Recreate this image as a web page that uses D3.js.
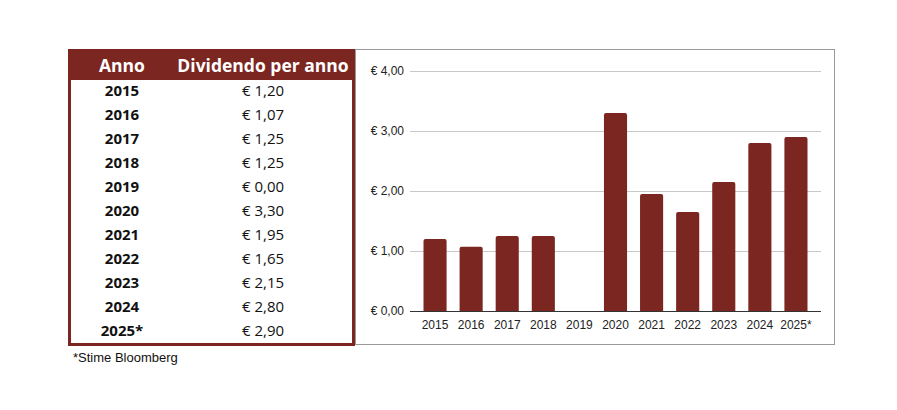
<!DOCTYPE html>
<html>
<head>
<meta charset="utf-8">
<script src="https://cdn.jsdelivr.net/npm/d3@7"></script>
<style>
  body { margin: 0; background: #fff; }
  svg { display: block; }
</style>
</head>
<body>
<svg id="vis" width="897" height="410"></svg>
<script>
// dati
const anni = ["2015", "2016", "2017", "2018", "2019", "2020", "2021", "2022", "2023", "2024", "2025*"];
const dividendi = [1.20, 1.07, 1.25, 1.25, 0.00, 3.30, 1.95, 1.65, 2.15, 2.80, 2.90];
const yTicks = [0, 1, 2, 3, 4];
const intestazioni = ["Anno", "Dividendo per anno"];
const nota = "*Stime Bloomberg";

const rosso = "#7b2621";
const fmt = v => "€ " + d3.format(".2f")(v).replace(".", ",");

const svg = d3.select("#vis");

// ---- tabella a sinistra ----
const tab = { x0: 68, x1: 355, y0: 49, y1: 346, head: 31 };

svg.append("rect")
    .attr("x", tab.x0).attr("y", tab.y0)
    .attr("width", tab.x1 - tab.x0).attr("height", tab.head)
    .attr("fill", rosso);

svg.append("rect")
    .attr("x", tab.x0 + 1.5).attr("y", tab.y0 + 1.5)
    .attr("width", tab.x1 - tab.x0 - 3).attr("height", tab.y1 - tab.y0 - 3)
    .attr("fill", "none")
    .attr("stroke", rosso)
    .attr("stroke-width", 3);

const colX = [122, 263];

svg.selectAll(".head")
    .data(intestazioni)
    .enter()
    .append("text")
    .attr("class", "head")
    .attr("x", (d, i) => colX[i])
    .attr("y", 72)
    .attr("text-anchor", "middle")
    .attr("font-family", "'Open Sans', sans-serif")
    .attr("font-weight", "bold")
    .attr("font-size", "17.5px")
    .attr("fill", "white")
    .text(d => d);

const righe = anni.map((a, i) => ({ anno: a, val: dividendi[i] }));
const yRow = d3.scaleBand().domain(anni).range([79, 343]);

svg.selectAll(".anno")
    .data(righe)
    .enter()
    .append("text")
    .attr("class", "anno")
    .attr("x", colX[0])
    .attr("y", d => yRow(d.anno) + yRow.bandwidth() / 2 + 5)
    .attr("text-anchor", "middle")
    .attr("font-family", "'Open Sans', sans-serif")
    .attr("font-weight", "bold")
    .attr("font-size", "15px")
    .attr("fill", "#111")
    .text(d => d.anno);

svg.selectAll(".valore")
    .data(righe)
    .enter()
    .append("text")
    .attr("class", "valore")
    .attr("x", colX[1])
    .attr("y", d => yRow(d.anno) + yRow.bandwidth() / 2 + 5)
    .attr("text-anchor", "middle")
    .attr("font-family", "'Open Sans', sans-serif")
    .attr("font-size", "15px")
    .attr("fill", "#111")
    .text(d => fmt(d.val));

svg.append("text")
    .attr("x", 73).attr("y", 362)
    .attr("font-family", "'Liberation Sans', Arial, sans-serif")
    .attr("font-size", "13px")
    .attr("fill", "#111")
    .text(nota);

// ---- grafico a destra ----
svg.append("rect")
    .attr("x", 355.5).attr("y", 49.5)
    .attr("width", 479).attr("height", 295)
    .attr("fill", "none")
    .attr("stroke", "#999")
    .attr("stroke-width", 1);

const x = d3.scaleBand().domain(anni).range([417, 814]).paddingInner(0.36).paddingOuter(0.18);
const y = d3.scaleLinear().domain([0, 4]).range([311, 71]);

const gridL = 410, gridR = 821;

svg.selectAll(".grid")
    .data(yTicks.filter(t => t > 0))
    .enter()
    .append("line")
    .attr("class", "grid")
    .attr("x1", gridL).attr("x2", gridR)
    .attr("y1", d => Math.round(y(d)) + 0.5)
    .attr("y2", d => Math.round(y(d)) + 0.5)
    .attr("stroke", "#c8c8c8");

svg.selectAll(".ylab")
    .data(yTicks)
    .enter()
    .append("text")
    .attr("class", "ylab")
    .attr("x", 404)
    .attr("y", d => y(d) + 4)
    .attr("text-anchor", "end")
    .attr("font-family", "'Liberation Sans', Arial, sans-serif")
    .attr("font-size", "12px")
    .attr("fill", "#222")
    .text(d => fmt(d));

svg.selectAll(".bar")
    .data(righe.filter(d => d.val > 0))
    .enter()
    .append("path")
    .attr("class", "bar")
    .attr("fill", rosso)
    .attr("d", d => {
        const x0 = x(d.anno), w = x.bandwidth(), y0 = y(d.val), y1 = y(0), r = 2;
        return `M${x0},${y1}V${y0 + r}Q${x0},${y0} ${x0 + r},${y0}H${x0 + w - r}Q${x0 + w},${y0} ${x0 + w},${y0 + r}V${y1}Z`;
    });

svg.append("line")
    .attr("x1", gridL).attr("x2", gridR)
    .attr("y1", 311.5).attr("y2", 311.5)
    .attr("stroke", "#333");

svg.selectAll(".xlab")
    .data(anni)
    .enter()
    .append("text")
    .attr("class", "xlab")
    .attr("x", d => x(d) + x.bandwidth() / 2)
    .attr("y", 329)
    .attr("text-anchor", "middle")
    .attr("font-family", "'Liberation Sans', Arial, sans-serif")
    .attr("font-size", "12px")
    .attr("fill", "#222")
    .text(d => d);
</script>
</body>
</html>
